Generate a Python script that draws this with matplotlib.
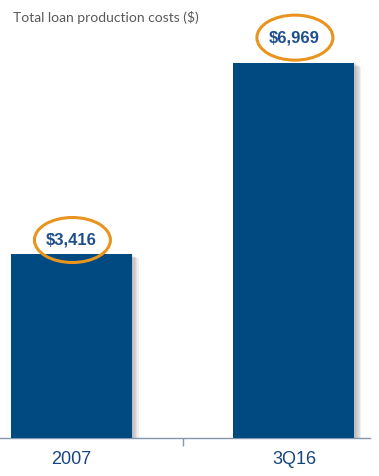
import matplotlib
matplotlib.use("Agg")
import matplotlib.pyplot as plt
from matplotlib.patches import Ellipse
from matplotlib.transforms import ScaledTranslation
import matplotlib.patheffects as pe

categories = ["2007", "3Q16"]
values = [3416, 6969]
labels = ["$3,416", "$6,969"]
title = "Total loan production costs ($)"

BAR = "#004A82"
TXT = "#1F4E8C"
ORANGE = "#E8941E"

W, H = 379, 476
fig = plt.figure(figsize=(W / 100, H / 100), dpi=100)
ax = fig.add_axes([0, 38 / H, 370 / W, 438 / H])

x = list(range(len(categories)))
bars = ax.bar(x, values, width=0.544, color=BAR, zorder=3)
shadow = [pe.SimplePatchShadow(offset=(d, -d * 0.6), shadow_rgbFace="#555555", alpha=0.09)
          for d in (5, 4, 3, 2, 1)]
for b in bars:
    b.set_path_effects(shadow + [pe.Normal()])

ax.set_xlim(-0.321, 1.342)
ax.set_ylim(0, 438 * 3416 / 184)

for s in ["top", "right", "left"]:
    ax.spines[s].set_visible(False)
ax.spines["bottom"].set_color("#8496B0")
ax.spines["bottom"].set_linewidth(1)
ax.set_yticks([])
ax.set_xticks([0.5], minor=True)
ax.tick_params(axis="x", which="minor", length=6, color="#8496B0", width=1)
ax.set_xticks(x)
ax.set_xticklabels(categories, fontsize=13, color="#17457F", family="Liberation Sans")
ax.tick_params(axis="x", which="major", length=0, pad=9)

offsets_px = [14, 25]
for xi, v, lab, off in zip(x, values, labels, offsets_px):
    tr = fig.dpi_scale_trans + ScaledTranslation(xi, v, ax.transData)
    ax.text(0, off / 100, lab, transform=tr, ha="center", va="center",
            fontsize=12, fontweight="bold", color=TXT, family="Liberation Sans", zorder=5)
    e = Ellipse((0.01, off / 100), 0.76, 0.45, transform=tr, fill=False,
                edgecolor=ORANGE, linewidth=2.2, zorder=4, clip_on=False)
    ax.add_patch(e)

fig.text(13 / W, 1 - 18 / H, title, ha="left", va="center", fontsize=10,
         color="#595959", family="Lato")

fig.savefig("out.png", dpi=100)
